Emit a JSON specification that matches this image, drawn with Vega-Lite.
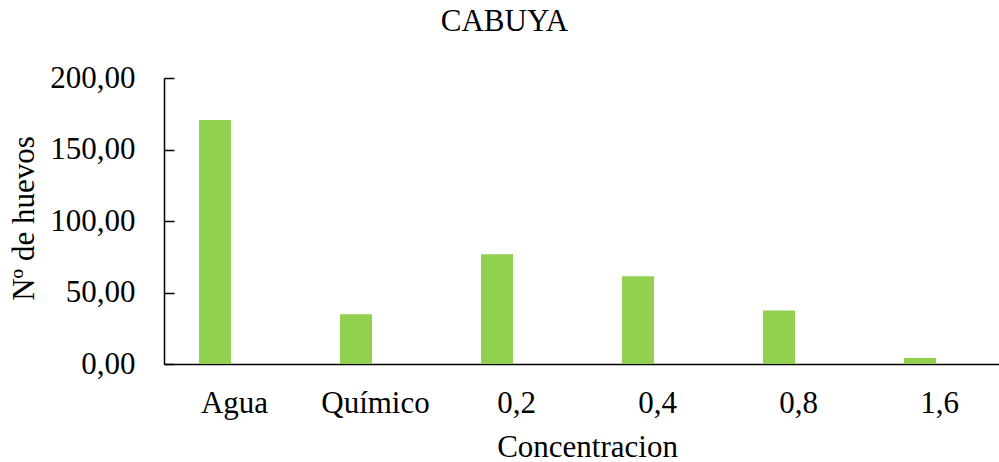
{
  "$schema": "https://vega.github.io/schema/vega-lite/v6.json",
  "autosize": {"type": "none"},
  "padding": {"left": 164, "top": 78, "right": 0, "bottom": 98},
  "width": 835,
  "height": 286,
  "background": "white",
  "title": {
    "text": "CABUYA",
    "anchor": "middle",
    "frame": "group",
    "dx": -77,
    "offset": 0,
    "baseline": "alphabetic",
    "font": "Liberation Serif",
    "fontSize": 31,
    "fontWeight": "normal",
    "color": "#000000"
  },
  "data": {
    "values": [
      {"Concentracion": "Agua", "serie": "Huevos", "huevos": 170.6},
      {"Concentracion": "Químico", "serie": "Huevos", "huevos": 34.8},
      {"Concentracion": "0,2", "serie": "Huevos", "huevos": 76.7},
      {"Concentracion": "0,4", "serie": "Huevos", "huevos": 61.3},
      {"Concentracion": "0,8", "serie": "Huevos", "huevos": 37.5},
      {"Concentracion": "1,6", "serie": "Huevos", "huevos": 4.2}
    ]
  },
  "mark": {"type": "bar", "color": "#92D050"},
  "encoding": {
    "x": {
      "field": "Concentracion",
      "type": "nominal",
      "sort": ["Agua", "Químico", "0,2", "0,4", "0,8", "1,6"],
      "scale": {"range": [0, 846], "paddingInner": 0, "paddingOuter": 0},
      "axis": {
        "title": "Concentracion",
        "titleX": 423,
        "titleY": 92,
        "titleFontSize": 31,
        "titleFontWeight": "normal",
        "titleBaseline": "alphabetic",
        "labelAngle": 0,
        "labelFontSize": 31,
        "labelBaseline": "alphabetic",
        "labelPadding": 48,
        "ticks": false,
        "tickSize": 0,
        "domainColor": "#000000",
        "domainWidth": 1.5,
        "labelColor": "#000000",
        "titleColor": "#000000"
      }
    },
    "xOffset": {
      "field": "serie",
      "type": "nominal",
      "scale": {"domain": ["Huevos", "Vacío"], "paddingInner": 0.1193, "paddingOuter": 1, "align": 0.4816}
    },
    "y": {
      "field": "huevos",
      "type": "quantitative",
      "scale": {"domain": [0, 200], "nice": false},
      "axis": {
        "title": "Nº de huevos",
        "values": [0, 50, 100, 150, 200],
        "labelExpr": "replace(format(datum.value, '.2f'), '.', ',')",
        "labelFontSize": 31,
        "labelPadding": 39,
        "labelBaseline": "middle",
        "tickSize": -10,
        "tickWidth": 1.5,
        "tickColor": "#000000",
        "domainColor": "#000000",
        "domainWidth": 1.5,
        "grid": false,
        "titleFontSize": 31,
        "titleFontWeight": "normal",
        "titleX": -131,
        "titleY": 140,
        "titleBaseline": "alphabetic",
        "titleAngle": -90,
        "labelColor": "#000000",
        "titleColor": "#000000"
      }
    }
  },
  "config": {
    "font": "Liberation Serif",
    "view": {"stroke": null},
    "axis": {"labelFont": "Liberation Serif", "titleFont": "Liberation Serif"}
  }
}
